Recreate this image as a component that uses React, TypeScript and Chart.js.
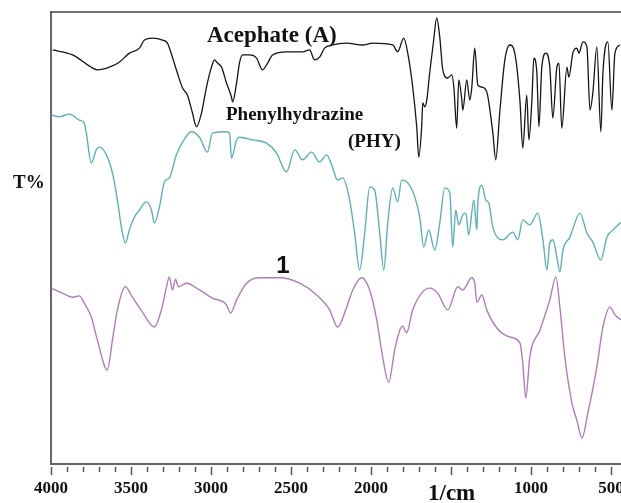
import React, { useEffect, useRef } from "react";
import { Chart, registerables } from "chart.js";

Chart.register(...registerables);

// Wavenumbers (1/cm) and transmittance (arbitrary offset T%)
const acephateWn = [3990, 3865, 3740, 3710, 3635, 3573, 3510, 3447, 3416, 3366, 3303, 3272, 3241, 3210, 3178, 3147, 3116, 3091, 3059, 3028, 2997, 2978, 2959, 2934, 2903, 2872, 2865, 2840, 2822, 2803, 2759, 2715, 2678, 2646, 2615, 2528, 2427, 2384, 2352, 2321, 2290, 2240, 2152, 2052, 1989, 1864, 1833, 1795, 1770, 1739, 1714, 1701, 1683, 1676, 1664, 1651, 1633, 1608, 1589, 1570, 1551, 1520, 1495, 1482, 1464, 1451, 1432, 1426, 1401, 1382, 1370, 1351, 1332, 1307, 1276, 1238, 1220, 1195, 1163, 1132, 1101, 1069, 1051, 1026, 1013, 994, 982, 963, 950, 932, 907, 882, 863, 838, 825, 807, 775, 763, 738, 713, 700, 675, 650, 631, 613, 588, 563, 550, 519, 494, 475, 444];
const acephateT = [91.6, 90.5, 87.6, 87.2, 87.8, 88.9, 90.9, 92.0, 93.8, 94.2, 93.8, 93.1, 90.0, 86.5, 83.2, 81.6, 77.7, 74.6, 77.7, 83.4, 87.8, 89.4, 88.7, 87.8, 84.3, 81.2, 80.1, 84.3, 88.7, 90.5, 90.5, 89.8, 87.2, 88.7, 90.5, 91.2, 91.2, 91.6, 89.4, 90.0, 92.0, 92.7, 93.1, 92.7, 93.1, 92.7, 91.2, 94.2, 90.9, 83.4, 74.6, 67.9, 74.6, 79.9, 79.0, 80.5, 86.5, 93.8, 98.7, 94.5, 87.2, 85.4, 86.1, 83.4, 74.3, 85.0, 80.5, 78.3, 85.0, 80.5, 83.2, 92.0, 83.8, 83.4, 82.3, 73.2, 67.3, 77.7, 89.4, 92.7, 90.9, 80.5, 69.9, 81.6, 71.7, 80.5, 89.8, 86.5, 74.6, 87.8, 90.9, 87.8, 76.5, 87.8, 88.7, 74.3, 87.8, 85.6, 90.9, 92.0, 90.9, 93.4, 92.3, 78.3, 82.1, 92.3, 73.5, 86.5, 93.4, 78.3, 90.9, 92.7];

const phyWn = [3998, 3948, 3885, 3823, 3792, 3779, 3748, 3717, 3698, 3654, 3616, 3585, 3560, 3535, 3510, 3479, 3447, 3404, 3372, 3354, 3322, 3291, 3260, 3216, 3178, 3122, 3072, 3022, 2991, 2903, 2884, 2872, 2840, 2822, 2740, 2653, 2590, 2528, 2477, 2427, 2371, 2321, 2277, 2246, 2208, 2177, 2133, 2102, 2071, 2039, 2008, 1977, 1945, 1920, 1895, 1864, 1833, 1808, 1770, 1726, 1695, 1670, 1639, 1601, 1570, 1539, 1507, 1489, 1470, 1451, 1426, 1407, 1389, 1357, 1338, 1332, 1307, 1282, 1263, 1238, 1176, 1113, 1082, 1051, 1007, 957, 925, 900, 882, 863, 838, 819, 800, 756, 694, 650, 613, 563, 525, 487, 437];
const phyT = [77.2, 76.8, 77.4, 76.1, 75.4, 73.2, 66.6, 69.5, 70.1, 68.4, 64.4, 58.4, 52.4, 48.9, 51.8, 54.6, 56.2, 58.0, 56.2, 53.3, 56.9, 62.4, 63.3, 68.4, 71.2, 73.5, 72.3, 69.0, 73.2, 73.5, 73.2, 67.7, 71.7, 72.3, 71.7, 71.0, 68.8, 64.6, 69.5, 67.3, 69.0, 66.8, 68.4, 66.2, 62.8, 63.3, 58.4, 51.1, 42.9, 51.1, 61.3, 60.6, 51.1, 42.9, 53.3, 61.1, 58.0, 62.8, 62.2, 59.1, 54.6, 48.0, 51.8, 47.3, 53.3, 61.1, 60.0, 48.0, 56.2, 52.9, 55.1, 55.5, 50.7, 58.4, 51.8, 57.7, 61.7, 58.4, 57.7, 52.4, 49.6, 51.3, 49.6, 54.0, 52.9, 55.5, 49.6, 42.9, 48.9, 49.6, 45.8, 42.5, 47.3, 50.2, 55.5, 51.1, 49.1, 45.1, 50.2, 51.8, 53.5];

const compoundWn = [3998, 3929, 3867, 3823, 3792, 3748, 3710, 3648, 3616, 3585, 3535, 3491, 3429, 3354, 3310, 3278, 3260, 3241, 3222, 3203, 3153, 3072, 2991, 2903, 2878, 2840, 2778, 2696, 2571, 2446, 2340, 2258, 2208, 2152, 2114, 2058, 2008, 1964, 1927, 1889, 1852, 1820, 1802, 1777, 1739, 1633, 1583, 1520, 1457, 1426, 1370, 1351, 1338, 1307, 1276, 1213, 1132, 1069, 1051, 1032, 1007, 944, 882, 844, 819, 788, 744, 713, 681, 644, 588, 550, 506, 475, 437];
const compoundT = [38.9, 37.8, 36.9, 37.2, 35.6, 32.5, 27.4, 20.8, 27.4, 34.1, 39.2, 36.9, 33.6, 30.3, 34.1, 39.2, 41.4, 38.5, 40.9, 39.2, 40.0, 38.5, 36.7, 35.2, 33.4, 36.3, 40.0, 41.2, 41.2, 40.0, 37.4, 34.1, 30.3, 34.7, 38.5, 41.2, 38.5, 31.9, 23.7, 18.1, 25.2, 29.6, 30.5, 29.0, 34.1, 38.9, 37.8, 34.1, 39.2, 38.5, 41.2, 40.0, 35.8, 37.4, 34.1, 30.1, 28.1, 26.8, 22.3, 14.6, 23.7, 29.6, 36.3, 41.4, 34.7, 23.7, 13.5, 9.7, 5.8, 11.3, 21.5, 30.3, 34.7, 33.0, 31.9];

const majorTicks = [4000, 3500, 3000, 2500, 2000, 1500, 1000, 500];
const majorLabels = ["4000", "3500", "3000", "2500", "2000", "", "1000", "500"];
const minorStep = 100;
const xMin = 437;
const xMax = 4000;

const seriesNames = ["Acephate (A)", "Phenylhydrazine (PHY)", "1"];

const toPoints = (xs: number[], ys: number[]) => xs.map((x, i) => ({ x, y: ys[i] }));

const decorPlugin = {
  id: "decor",
  afterDraw(chart: any) {
    const { ctx, chartArea, scales } = chart;
    const xs = scales.x;
    ctx.save();
    // top border
    ctx.strokeStyle = "#444";
    ctx.lineWidth = 1.5;
    ctx.beginPath();
    ctx.moveTo(chartArea.left, chartArea.top);
    ctx.lineTo(chartArea.right, chartArea.top);
    ctx.stroke();
    // ticks
    ctx.strokeStyle = "#555";
    ctx.lineWidth = 1.5;
    const yb = chartArea.bottom;
    for (let v = xMax; v >= xMin; v -= minorStep) {
      const px = Math.round(xs.getPixelForValue(v)) + 0.5;
      const major = majorTicks.includes(v);
      ctx.beginPath();
      ctx.moveTo(px, yb + 3);
      ctx.lineTo(px, yb + (major ? 11 : 8));
      ctx.stroke();
    }
    // tick labels
    ctx.fillStyle = "#111";
    ctx.font = "bold 17px 'Liberation Serif', serif";
    ctx.textAlign = "center";
    ctx.textBaseline = "alphabetic";
    majorTicks.forEach((v, i) => {
      if (!majorLabels[i]) return;
      ctx.fillText(majorLabels[i], xs.getPixelForValue(v), 493);
    });
    // axis titles
    ctx.textAlign = "left";
    ctx.font = "bold 23px 'Liberation Serif', serif";
    ctx.fillText("1/cm", 428, 500);
    ctx.font = "bold 19px 'Liberation Serif', serif";
    ctx.fillText("T%", 13, 188);
    // series annotations
    ctx.font = "bold 23px 'Liberation Serif', serif";
    ctx.fillText("Acephate (A)", 207, 42);
    ctx.font = "bold 19px 'Liberation Serif', serif";
    ctx.fillText("Phenylhydrazine", 226, 120);
    ctx.fillText("(PHY)", 348, 147);
    ctx.font = "bold 24px 'Liberation Sans', sans-serif";
    ctx.textAlign = "center";
    ctx.fillText("1", 283, 273);
    ctx.restore();
  },
};

export default function App() {
  const ref = useRef<HTMLCanvasElement | null>(null);
  useEffect(() => {
    if (!ref.current) return;
    const chart = new Chart(ref.current, {
      type: "line",
      data: {
        datasets: [
          { label: seriesNames[0], data: toPoints(acephateWn, acephateT), borderColor: "#151515", borderWidth: 1.3 },
          { label: seriesNames[1], data: toPoints(phyWn, phyT), borderColor: "#5fb0b4", borderWidth: 1.4 },
          { label: seriesNames[2], data: toPoints(compoundWn, compoundT), borderColor: "#b07cb8", borderWidth: 1.4 },
        ] as any,
      },
      options: {
        animation: false,
        responsive: false,
        devicePixelRatio: 1,
        elements: { point: { radius: 0 }, line: { tension: 0.4, cubicInterpolationMode: "monotone" } },
        layout: { padding: { top: 12, left: 0, right: 0, bottom: 0 } },
        plugins: { legend: { display: false }, tooltip: { enabled: false } },
        scales: {
          x: {
            type: "linear",
            reverse: true,
            min: xMin,
            max: xMax,
            ticks: { display: false },
            grid: { display: false, drawTicks: false },
            border: { display: true, color: "#666", width: 2 },
            afterFit: (s: any) => { s.height = 39; s.paddingLeft = 0; s.paddingRight = 0; },
          },
          y: {
            min: 0,
            max: 100,
            ticks: { display: false },
            grid: { display: false, drawTicks: false },
            border: { display: true, color: "#666", width: 2 },
            afterFit: (s: any) => { s.width = 51; },
          },
        },
      } as any,
      plugins: [decorPlugin],
    });
    return () => chart.destroy();
  }, []);
  return (
    <div style={{ position: "absolute", left: 0, top: 0, width: 621, height: 503, background: "#fff" }}>
      <canvas ref={ref} width={621} height={503} />
    </div>
  );
}
